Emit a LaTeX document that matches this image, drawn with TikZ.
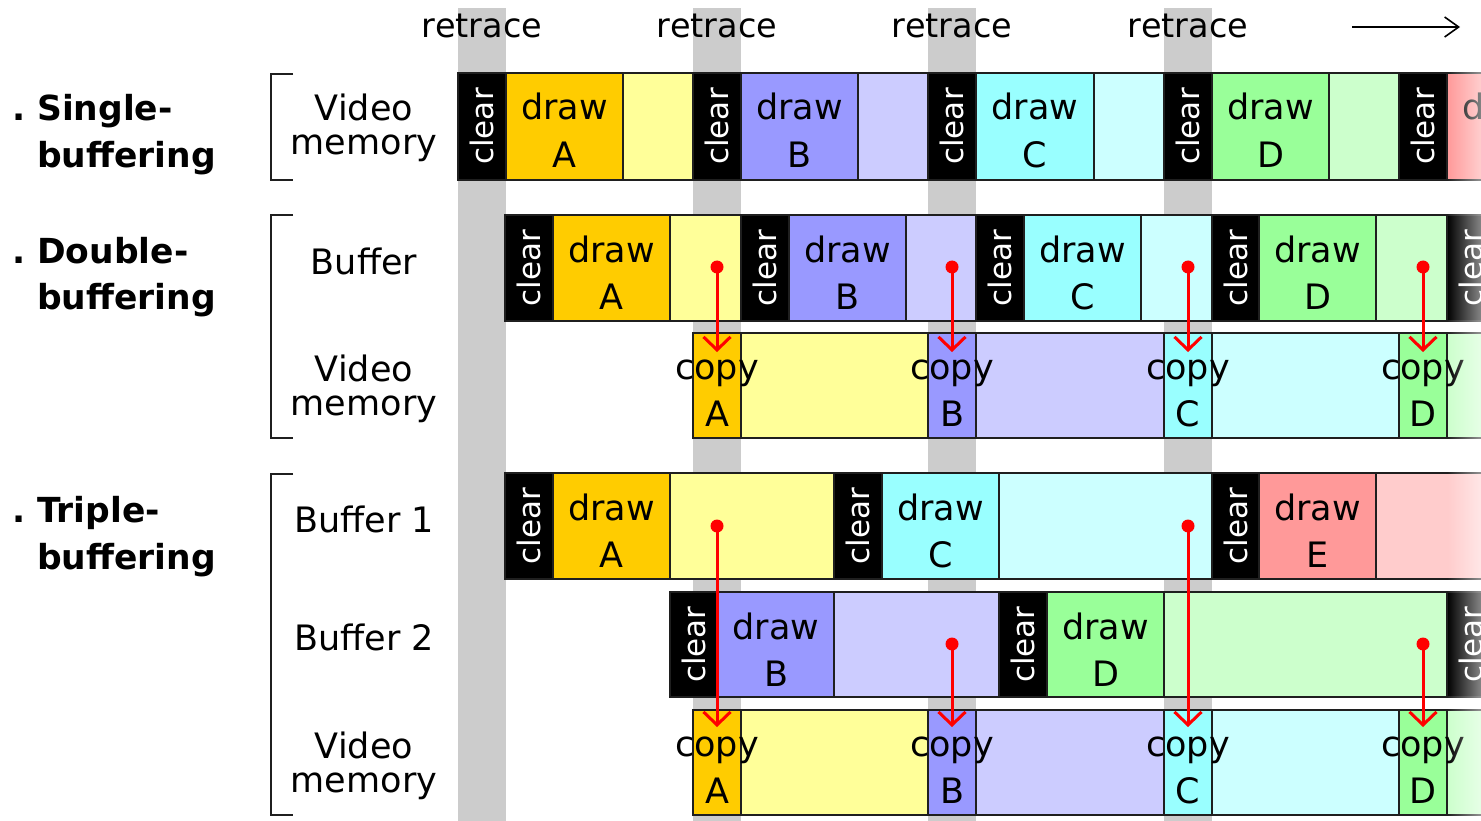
\documentclass[tikz,border=0pt]{standalone}
\usepackage{fontspec}
\setmainfont{DejaVu Sans}
\usetikzlibrary{arrows.meta,fadings}
\definecolor{cA}{HTML}{FFCC00}\definecolor{lA}{HTML}{FFFF99}
\definecolor{cB}{HTML}{9999FF}\definecolor{lB}{HTML}{CCCCFF}
\definecolor{cC}{HTML}{99FFFF}\definecolor{lC}{HTML}{CCFFFF}
\definecolor{cD}{HTML}{99FF99}\definecolor{lD}{HTML}{CCFFCC}
\definecolor{cE}{HTML}{FF9999}\definecolor{lE}{HTML}{FFCCCC}
\definecolor{bandgrey}{HTML}{CCCCCC}
\tikzfading[name=rfade, left color=transparent!100, right color=transparent!0]
\pgfdeclarelayer{fg}
\pgfsetlayers{main,fg}
\newcommand\twoc[2]{\vtop{\halign{\hfil##\hfil\cr#1\cr#2\cr}}}
\newcommand\twol[2]{\vtop{\halign{##\hfil\cr#1\cr#2\cr}}}
% generic cell: name, fill, x1, x2, y1, y2
\newcommand\mkcell[6]{%
  \pgfmathsetmacro\cw{#4-#3}\pgfmathsetmacro\ch{#6-#5}%
  \pgfmathsetmacro\cx{(#3+#4)/2}\pgfmathsetmacro\cy{(#5+#6)/2}%
  \node[cellbox,fill=#2,minimum width=\cw pt,minimum height=\ch pt] (#1) at (\cx,\cy) {};}
\newcommand\blank[6]{\mkcell{#1}{#2}{#3}{#4}{#5}{#6}}
\newcommand\clr[5]{\mkcell{#1}{black}{#2}{#3}{#4}{#5}%
  \begin{pgfonlayer}{fg}\node[cleartxt] (#1-t) at (#1.center) {clear};\end{pgfonlayer}}
\newcommand\drw[7]{\mkcell{#1}{#2}{#3}{#4}{#5}{#6}%
  \pgfmathsetmacro\by{#5+47}%
  \begin{pgfonlayer}{fg}\node[celltxt] (#1-t) at (\cx,\by) {\twoc{draw}{#7}};\end{pgfonlayer}}
\newcommand\cpy[7]{\mkcell{#1}{#2}{#3}{#4}{#5}{#6}%
  \pgfmathsetmacro\by{#5+46}%
  \begin{pgfonlayer}{fg}\node[celltxt] (#1-t) at (\cx,\by) {\twoc{copy}{#7}};\end{pgfonlayer}}
\tikzset{
  cellbox/.style={draw=black!88, line width=1.6pt, inner sep=0pt, outer sep=0pt},
  celltxt/.style={anchor=base, inner sep=0pt, font=\fontsize{35}{47.5}\selectfont},
  cleartxt/.style={text=white, rotate=90, inner sep=0pt, font=\fontsize{31}{31}\selectfont},
  lbl/.style={anchor=base, inner sep=0pt, font=\fontsize{35}{34}\selectfont},
  boldlbl/.style={anchor=base west, inner sep=0pt, font=\fontsize{34.5}{46.5}\selectfont\bfseries},
  band/.style={fill=bandgrey},
  bracketline/.style={line width=2pt, draw=black!88},
  cparrow/.style={red, line width=3pt, -{Straight Barb[length=13pt,width=27pt]}},
  reddot/.style={fill=red},
  timearrow/.style={line width=1.6pt, -{Straight Barb[length=14pt,width=20pt,line width=1.6pt]}}
}
\begin{document}
\begin{tikzpicture}[x=1pt,y=-1pt]
\useasboundingbox (0,0) rectangle (1481,821);
\clip (0,0) rectangle (1481,821);
% retrace bands
\foreach \bx [count=\i] in {458,693,928,1164}{
  \fill[band] (\bx,8) rectangle ({\bx+48},821);
  \node[font=\fontsize{33.5}{33.5}\selectfont, anchor=base, inner sep=0pt] (rt\i) at ({\bx+24},38) {retrace};
}
\coordinate (ta) at (1352,27);
\coordinate (tb) at (1460,27);
\draw[timearrow] (ta) -- (tb);
% left labels
\node[boldlbl] (lab1) at (37,121) {\twol{\llap{.\ }Single-}{buffering}};
\node[boldlbl] (lab2) at (37,263) {\twol{\llap{.\ }Double-}{buffering}};
\node[boldlbl] (lab3) at (37,522.5) {\twol{\llap{.\ }Triple-}{buffering}};
% brackets
\draw[bracketline] (293,74) -- (271,74) -- (271,180) -- (293,180);
\draw[bracketline] (293,215) -- (271,215) -- (271,438) -- (293,438);
\draw[bracketline] (293,474) -- (271,474) -- (271,815) -- (293,815);
% row labels
\node[lbl] (r1) at (364,121) {\twoc{Video}{memory}};
\node[lbl] (r2) at (364,274) {\twoc{Buffer}{}};
\node[lbl] (r3) at (364,381) {\twoc{Video}{memory}};
\node[lbl] (r4) at (364,532) {\twoc{Buffer 1}{}};
\node[lbl] (r5) at (364,650) {\twoc{Buffer 2}{}};
\node[lbl] (r6) at (364,758) {\twoc{Video}{memory}};
% single buffering
\clr{s1}{458}{506}{73}{180}
\drw{s2}{cA}{506}{623}{73}{180}{A}
\blank{s3}{lA}{623}{693}{73}{180}
\clr{s4}{693}{741}{73}{180}
\drw{s5}{cB}{741}{858}{73}{180}{B}
\blank{s6}{lB}{858}{928}{73}{180}
\clr{s7}{928}{976}{73}{180}
\drw{s8}{cC}{976}{1094}{73}{180}{C}
\blank{s9}{lC}{1094}{1164}{73}{180}
\clr{s10}{1164}{1212}{73}{180}
\drw{s11}{cD}{1212}{1329}{73}{180}{D}
\blank{s12}{lD}{1329}{1399}{73}{180}
\clr{s13}{1399}{1447}{73}{180}
\drw{s14}{cE}{1447}{1564}{73}{180}{E}
% double buffering: buffer
\clr{d1}{505}{553}{215}{321}
\drw{d2}{cA}{553}{670}{215}{321}{A}
\blank{d3}{lA}{670}{741}{215}{321}
\clr{d4}{741}{789}{215}{321}
\drw{d5}{cB}{789}{906}{215}{321}{B}
\blank{d6}{lB}{906}{976}{215}{321}
\clr{d7}{976}{1024}{215}{321}
\drw{d8}{cC}{1024}{1141}{215}{321}{C}
\blank{d9}{lC}{1141}{1212}{215}{321}
\clr{d10}{1212}{1259}{215}{321}
\drw{d11}{cD}{1259}{1376}{215}{321}{D}
\blank{d12}{lD}{1376}{1447}{215}{321}
\clr{d13}{1447}{1495}{215}{321}
% double buffering: video memory
\cpy{v1}{cA}{693}{741}{333}{438}{A}
\blank{v2}{lA}{741}{928}{333}{438}
\cpy{v3}{cB}{928}{976}{333}{438}{B}
\blank{v4}{lB}{976}{1164}{333}{438}
\cpy{v5}{cC}{1164}{1212}{333}{438}{C}
\blank{v6}{lC}{1212}{1399}{333}{438}
\cpy{v7}{cD}{1399}{1447}{333}{438}{D}
\blank{v8}{lD}{1447}{1600}{333}{438}
% triple buffering: buffer 1
\clr{t1}{505}{553}{473}{579}
\drw{t2}{cA}{553}{670}{473}{579}{A}
\blank{t3}{lA}{670}{834}{473}{579}
\clr{t4}{834}{882}{473}{579}
\drw{t5}{cC}{882}{999}{473}{579}{C}
\blank{t6}{lC}{999}{1212}{473}{579}
\clr{t7}{1212}{1259}{473}{579}
\drw{t8}{cE}{1259}{1376}{473}{579}{E}
\blank{t9}{lE}{1376}{1600}{473}{579}
% triple buffering: buffer 2
\clr{u1}{670}{718}{592}{697}
\drw{u2}{cB}{718}{834}{592}{697}{B}
\blank{u3}{lB}{834}{999}{592}{697}
\clr{u4}{999}{1047}{592}{697}
\drw{u5}{cD}{1047}{1164}{592}{697}{D}
\blank{u6}{lD}{1164}{1447}{592}{697}
\clr{u7}{1447}{1495}{592}{697}
% triple buffering: video memory
\cpy{w1}{cA}{693}{741}{710}{815}{A}
\blank{w2}{lA}{741}{928}{710}{815}
\cpy{w3}{cB}{928}{976}{710}{815}{B}
\blank{w4}{lB}{976}{1164}{710}{815}
\cpy{w5}{cC}{1164}{1212}{710}{815}{C}
\blank{w6}{lC}{1212}{1399}{710}{815}
\cpy{w7}{cD}{1399}{1447}{710}{815}{D}
\blank{w8}{lD}{1447}{1600}{710}{815}
% copy arrows
\begin{pgfonlayer}{fg}
\foreach \nm/\ax/\ay/\by in {a1/717/267/352, a2/952/267/352, a3/1188/267/352, a4/1423/267/352,
                              b1/717/526/727, b2/952/644/727, b3/1188/526/727, b4/1423/644/727}{
  \coordinate (\nm-s) at (\ax,\ay);
  \coordinate (\nm-e) at (\ax,\by);
  \draw[cparrow] (\nm-s) -- (\nm-e);
  \fill[reddot] (\nm-s) circle (6.5pt);
}
% fade at right edge
\fill[white, path fading=rfade] (1447,60) rectangle (1512,821);
\end{pgfonlayer}
\end{tikzpicture}
\end{document}
